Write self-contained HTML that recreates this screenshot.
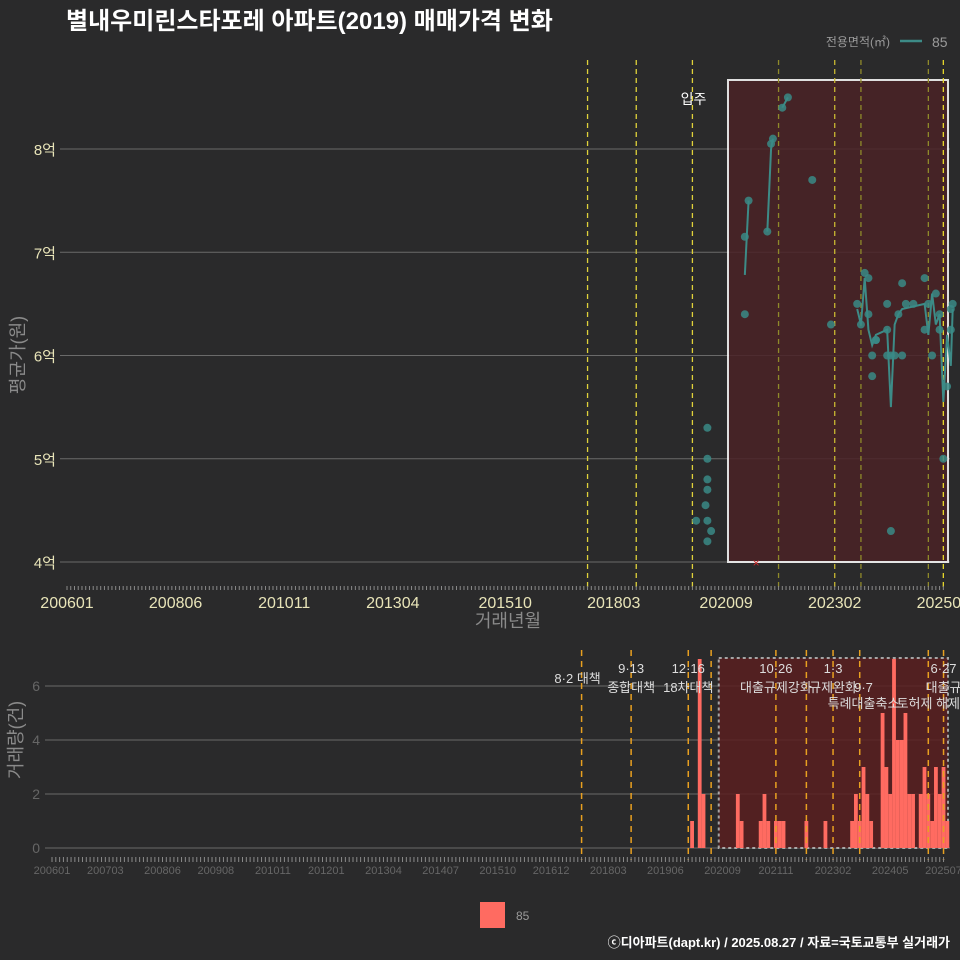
<!DOCTYPE html>
<html><head><meta charset="utf-8">
<style>
html,body{margin:0;padding:0;background:#2a2a2b;}
svg{display:block;font-family:"Liberation Sans","Noto Sans CJK KR",sans-serif;}
</style></head>
<body>
<svg id="chart" width="960" height="960" viewBox="0 0 960 960">
<rect x="0" y="0" width="960" height="960" fill="#2a2a2b"/>
<text x="66" y="29" fill="#ffffff" font-size="24" font-weight="bold">별내우미린스타포레 아파트(2019) 매매가격 변화</text>
<g>
<text x="890" y="46" fill="#9a9a9a" font-size="12" text-anchor="end">전용면적(㎡)</text>
<line x1="900" y1="41" x2="922" y2="41" stroke="#3d8b87" stroke-width="2.5"/>
<text x="932" y="47" fill="#9a9a9a" font-size="14">85</text>
</g>
<g id="topPanel"></g>
<g id="botPanel"></g>
<g>
<rect x="480" y="902" width="25" height="26" fill="#ff6b61"/>
<text x="516" y="920" fill="#9a9a9a" font-size="12">85</text>
</g>
<text x="950" y="947" fill="#ffffff" font-size="13" font-weight="bold" text-anchor="end">ⓒ디아파트(dapt.kr) / 2025.08.27 / 자료=국토교통부 실거래가</text>
</svg>
<script>
// ---- data ----
const xTickLabelsTop = ["200601","200806","201011","201304","201510","201803","202009","202302","202507"];
const xTickLabelsBot = ["200601","200703","200806","200908","201011","201201","201304","201407","201510","201612","201803","201906","202009","202111","202302","202405","202507"];
const yTicksTop = [4,5,6,7,8];
const yTickLabelsTop = ["4억","5억","6억","7억","8억"];
const yTicksBot = [0,2,4,6];
// scatter points: month index (0=200601), price (억)
const ptMonths = [168,171,171,171,171,170.5,171,172,171,181,181,182,187,188,188.5,191,192.5,199,204,211,213,214,212,214,216,216,215,215,219,219,219,220,221,223,220,223,224,226,222,229,230,229,232,231,233,233,236,236,235,234,236.5];
const ptValues = [4.4,5.3,5.0,4.8,4.7,4.55,4.4,4.3,4.2,6.4,7.15,7.5,7.2,8.05,8.1,8.4,8.5,7.7,6.3,6.5,6.8,6.75,6.3,6.4,6.15,6.15,6.0,5.8,6.5,6.25,6.0,6.0,6.0,6.0,4.3,6.7,6.5,6.5,6.4,6.75,6.5,6.25,6.6,6.0,6.4,6.25,6.45,6.25,5.7,5.0,6.5];
// monthly average line segments
const lineMonths1 = [181,182];
const lineValues1 = [6.78,7.5];
const lineMonths2 = [187,188,188.5];
const lineValues2 = [7.2,8.0,8.1];
const lineMonths3 = [191,192.5];
const lineValues3 = [8.4,8.5];
const lineMonths4 = [211,212,213,214,215,216,219,220,221,222,223,229,230,231,232,233,234,235,236,236.5];
const lineValues4 = [6.45,6.3,6.75,6.25,6.1,6.2,6.25,5.5,6.3,6.4,6.45,6.5,6.2,6.6,6.3,6.4,5.55,6.2,5.9,6.45];
// policy lines
const policyMonths = [139,152,167,173,190,198,205,212,230,234];
const policyColorsTop = ["#e0d23a","#e0d23a","#e0d23a",null,"#8f8a2a",null,"#c9b832","#8f8a2a","#8f8a2a","#e8d82a"];
// transaction volume per month
const barMonths = [168,170,171,180,181,186,187,188,190,191,192,198,203,210,211,212,213,214,215,218,219,220,221,222,223,224,225,226,228,229,230,231,232,233,234,235];
const barCounts = [1,7,2,2,1,1,2,1,1,1,1,1,1,1,2,1,3,2,1,5,3,2,7,4,4,5,2,2,2,3,2,1,3,2,3,1];

const NS="http://www.w3.org/2000/svg";
function mk(parent,tag,attrs){const e=document.createElementNS(NS,tag);for(const k in attrs)e.setAttribute(k,attrs[k]);parent.appendChild(e);return e;}
function ymToIdx(s){return (parseInt(s.slice(0,4))-2006)*12+parseInt(s.slice(4))-1;}

// ---- top panel ----
const topG=document.getElementById('topPanel');
const xT=m=>67+m*3.745;
const yT=v=>562-(v-4)*103.25;
yTicksTop.forEach((v,i)=>{
  const l=mk(topG,'line',{x1:60,x2:950,y1:yT(v),y2:yT(v),stroke:'#6a6a6a','stroke-width':1});
  
  
  const t=mk(topG,'text',{x:56,y:yT(v)+6,fill:'#e8e4b8','font-size':15,'text-anchor':'end'});
  t.textContent=yTickLabelsTop[i];
  
  
});
const rr=mk(topG,'rect',{x:xT(176.5),y:80,width:948-xT(176.5),height:482,fill:'#4a2226',opacity:0.85,stroke:'#ffffff','stroke-width':2});


policyMonths.forEach((m,i)=>{
  if(!policyColorsTop[i])return;
  const l=mk(topG,'line',{x1:xT(m),x2:xT(m),y1:60,y2:590,stroke:policyColorsTop[i],'stroke-width':1.3,'stroke-dasharray':'5,4'});
  
  
});
const ipt=mk(topG,'text',{x:xT(167)+14,y:104,fill:'#ffffff','font-size':14,'text-anchor':'end'});
ipt.textContent='입주';


const xm=mk(topG,'text',{x:xT(184),y:567,fill:'#cc2a2a','font-size':12,'text-anchor':'middle'});
xm.textContent='×';


[[lineMonths1,lineValues1],[lineMonths2,lineValues2],[lineMonths3,lineValues3],[lineMonths4,lineValues4]].forEach(([ms,vs])=>{
  const p=mk(topG,'polyline',{points:ms.map((m,i)=>xT(m)+','+yT(vs[i])).join(' '),fill:'none',stroke:'#3d8b87','stroke-width':2});
  
  
});
ptMonths.forEach((m,i)=>{
  const c=mk(topG,'circle',{cx:xT(m),cy:yT(ptValues[i]),r:4,fill:'#3a8a86','fill-opacity':0.85});
  
  
});
for(let m=0;m<=234;m++){
  const l=mk(topG,'line',{x1:xT(m),x2:xT(m),y1:586,y2:590,stroke:'#8a8a8a','stroke-width':1});
  
  
}
xTickLabelsTop.forEach(s=>{
  const t=mk(topG,'text',{x:xT(ymToIdx(s)),y:608,fill:'#e8e4b8','font-size':16,'text-anchor':'middle'});
  t.textContent=s;
  
  
});
const xt=mk(topG,'text',{x:508,y:627,fill:'#8a8a8a','font-size':18,'text-anchor':'middle'});
xt.textContent='거래년월';


const yt=mk(topG,'text',{x:0,y:0,fill:'#8a8a8a','font-size':18,'text-anchor':'middle',transform:'translate(24,355) rotate(-90)'});
yt.textContent='평균가(원)';



// ---- bottom panel ----
const botG=document.getElementById('botPanel');
const xB=m=>52+m*3.81;
const yB=v=>848-v*27;
yTicksBot.forEach(v=>{
  const l=mk(botG,'line',{x1:45,x2:950,y1:yB(v),y2:yB(v),stroke:'#6a6a6a','stroke-width':1});
  
  
  const t=mk(botG,'text',{x:40,y:yB(v)+5,fill:'#666666','font-size':14,'text-anchor':'end'});
  t.textContent=String(v);
  
  
});
const br=mk(botG,'rect',{x:xB(175),y:658,width:948-xB(175),height:190,fill:'#5a1f20',opacity:0.85,stroke:'#bbbbbb','stroke-width':2,'stroke-dasharray':'3,3'});


barMonths.forEach((m,i)=>{
  const r=mk(botG,'rect',{x:xB(m)-1.9,y:yB(barCounts[i]),width:3.8,height:barCounts[i]*27,fill:'#ff6b61'});
  
  
});
policyMonths.forEach(m=>{
  const l=mk(botG,'line',{x1:xB(m),x2:xB(m),y1:650,y2:860,stroke:'#e8a020','stroke-width':1.5,'stroke-dasharray':'6,5'});
  
  
});
const anns=[[139,'8·2 대책',683,-4],[152,'9·13',673,0],[152,'종합대책',692,0],[167,'12·16',673,0],[167,'18차대책',692,0],[190,'10·26',673,0],[190,'대출규제강화',692,0],[205,'1·3',673,0],[205,'규제완화',692,0],[213,'9·7',692,0],[213,'특례대출축소',708,0],[230,'토허제 해제',708,0],[234,'6·27',673,0],[234,'대출규',692,0]];
anns.forEach(a=>{
  const t=mk(botG,'text',{x:xB(a[0])+a[3],y:a[2],fill:'#dddddd','font-size':13,'text-anchor':'middle'});
  t.textContent=a[1];
  
  
});
for(let m=0;m<=234;m++){
  const l=mk(botG,'line',{x1:xB(m),x2:xB(m),y1:857,y2:862,stroke:'#8a8a8a','stroke-width':1});
  
  
}
xTickLabelsBot.forEach(s=>{
  const t=mk(botG,'text',{x:xB(ymToIdx(s)),y:874,fill:'#666666','font-size':11,'text-anchor':'middle'});
  t.textContent=s;
  
  
});
const yt2=mk(botG,'text',{x:0,y:0,fill:'#8a8a8a','font-size':18,'text-anchor':'middle',transform:'translate(22,740) rotate(-90)'});
yt2.textContent='거래량(건)';


</script>
</body></html>
